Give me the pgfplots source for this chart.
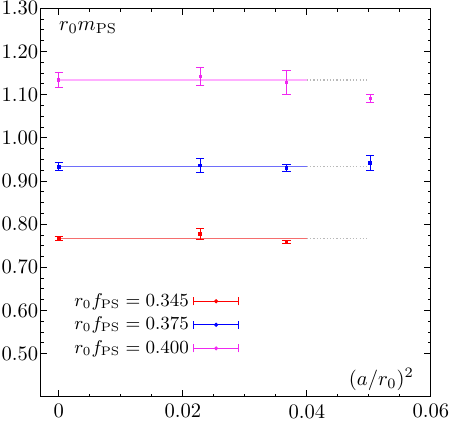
\documentclass[border=0pt]{standalone}
\usepackage{pgfplots}
\pgfplotsset{compat=1.18}
\definecolor{mred}{RGB}{255,0,0}
\definecolor{mblue}{RGB}{0,0,255}
\definecolor{mmag}{RGB}{240,40,240}
\definecolor{lred}{RGB}{245,110,110}
\definecolor{lblue}{RGB}{110,110,250}
\definecolor{lmag}{RGB}{255,175,255}
\begin{document}
\begin{tikzpicture}
\begin{axis}[
    width=190pt, height=189pt,
    scale only axis,
    xmin=-0.003, xmax=0.06,
    ymin=0.40, ymax=1.30,
    xtick={0,0.02,0.04,0.06},
    xticklabels={0,0.02,0.04,0.06},
    scaled x ticks=false,
    ytick={0.5,0.6,0.7,0.8,0.9,1.0,1.1,1.2,1.3},
    yticklabel style={inner sep=0.8pt, /pgf/number format/.cd, fixed, fixed zerofill, precision=2},
    minor x tick num=3,
    minor y tick num=3,
    major tick length=3.3pt,
    minor tick length=1.6pt,
    tick style={black, thin},
    axis line style={black, thin},
    legend style={at={(0.06,0.082)}, anchor=south west, draw=none, fill=none,
        font=\small, legend cell align=right, row sep=-0.3pt},
    legend plot pos=right,
    legend image code/.code={
        \draw[#1, mark=none, line width=0.5pt] (4pt,0pt) -- (26pt,0pt);
        \draw[#1, mark=none, line width=0.5pt] (4pt,-2pt) -- (4pt,2pt);
        \draw[#1, mark=none, line width=0.5pt] (26pt,-2pt) -- (26pt,2pt);
        \fill[#1] (15pt,0pt) circle (0.8pt);
    },
    error bars/error bar style={line width=0.5pt},
    error bars/error mark options={rotate=90, mark size=2pt, line width=0.5pt},
]

% fit lines and extrapolation
\addplot[lred, line width=0.6pt, forget plot] coordinates {(0,0.767) (0.04,0.767)};
\addplot[gray!55, densely dotted, line width=0.6pt, forget plot] coordinates {(0.04,0.767) (0.05,0.767)};
\addplot[lblue, line width=0.6pt, forget plot] coordinates {(0,0.933) (0.04,0.933)};
\addplot[gray!55, densely dotted, line width=0.6pt, forget plot] coordinates {(0.04,0.933) (0.05,0.933)};
\addplot[lmag, line width=1.3pt, forget plot] coordinates {(0,1.134) (0.04,1.134)};
\addplot[gray!55, densely dotted, line width=0.6pt, forget plot] coordinates {(0.04,1.134) (0.05,1.134)};

% r0 fPS = 0.345
\addplot[mred, only marks, mark=square*, mark size=0.7pt,
    error bars/.cd, y dir=both, y explicit] coordinates {
    (0,0.767) +- (0,0.004)
    (0.0228,0.777) +- (0,0.012)
    (0.0367,0.758) +- (0,0.003)
};
\addlegendentry{$r_0 f_{\mathrm{PS}} = 0.345$}

% r0 fPS = 0.375
\addplot[mblue, only marks, mark=square*, mark size=0.7pt,
    error bars/.cd, y dir=both, y explicit] coordinates {
    (0,0.933) +- (0,0.009)
    (0.0228,0.936) +- (0,0.017)
    (0.0367,0.931) +- (0,0.008)
    (0.0502,0.942) +- (0,0.017)
};
\addlegendentry{$r_0 f_{\mathrm{PS}} = 0.375$}

% r0 fPS = 0.400
\addplot[mmag, only marks, mark=square*, mark size=0.5pt,
    error bars/.cd, y dir=both, y explicit] coordinates {
    (0,1.134) +- (0,0.017)
    (0.0228,1.142) +- (0,0.020)
    (0.0367,1.128) +- (0,0.027)
    (0.0502,1.091) +- (0,0.010)
};
\addlegendentry{$r_0 f_{\mathrm{PS}} = 0.400$}

\node[anchor=west] at (rel axis cs:0.03,0.95) {$r_0 m_{\mathrm{PS}}$};
\node[anchor=east] at (rel axis cs:0.975,0.045) {$(a/r_0)^2$};
\end{axis}
\end{tikzpicture}
\end{document}
